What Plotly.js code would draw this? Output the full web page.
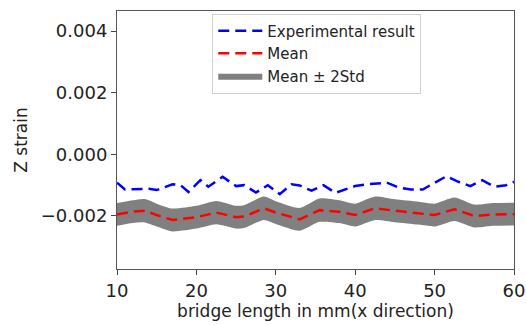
<!DOCTYPE html>
<html>
<head>
<meta charset="utf-8">
<script src="https://cdn.plot.ly/plotly-3.0.1.min.js"></script>
<style>html,body{margin:0;padding:0;background:#fff;}</style>
</head>
<body>
<div id="chart" style="width:526px;height:325px;"></div>
<script>
// Experimental result (blue dashed)
const expX = [10, 11, 14, 15, 17, 18, 19, 20.5, 21.5, 23.3, 25, 26, 27.5, 29, 30.5, 32, 33, 34.5, 36, 37.5, 40, 41.5, 44, 45.5, 47, 48.5, 51.5, 53, 54.5, 56, 57.5, 59, 60];
const expY = [-0.00092, -0.00114, -0.00112, -0.00116, -0.00097, -0.00100, -0.00122, -0.00084, -0.00105, -0.00073, -0.00103, -0.00100, -0.00124, -0.00100, -0.00129, -0.00097, -0.00101, -0.00118, -0.00100, -0.00125, -0.00103, -0.00097, -0.00092, -0.00108, -0.00114, -0.00114, -0.00071, -0.00089, -0.00103, -0.00084, -0.00105, -0.00100, -0.00089];

// Mean (red dashed) and 2*Std half-width of grey band
const meanX = [10, 12, 13.5, 15, 17, 20, 22.5, 25, 26, 28.5, 30, 33, 35.5, 38, 40, 42.5, 45, 48, 50, 52.5, 55, 57.5, 60];
const meanY = [-0.00195, -0.00186, -0.00183, -0.00197, -0.00213, -0.00204, -0.00189, -0.00204, -0.00202, -0.00175, -0.00189, -0.00211, -0.00181, -0.00186, -0.00197, -0.00175, -0.00183, -0.00191, -0.00197, -0.00178, -0.00200, -0.00195, -0.00194];
const twoStd = [0.00037, 0.00037, 0.00038, 0.00037, 0.00037, 0.00037, 0.00038, 0.00037, 0.00037, 0.00038, 0.00037, 0.00037, 0.00038, 0.00037, 0.00037, 0.00038, 0.00037, 0.00037, 0.00037, 0.00038, 0.00037, 0.00037, 0.00037];

const yTicks = [-0.002, 0.000, 0.002, 0.004];
const xTicks = [10, 20, 30, 40, 50, 60];

const upper = meanY.map((m, i) => m + twoStd[i]);
const lower = meanY.map((m, i) => m - twoStd[i]);

const font = "DejaVu Sans, sans-serif";
const traces = [
  {x: expX, y: expY, mode: 'lines', line: {color: '#0000ff', width: 2.5, dash: '11px,6px'}, name: 'Experimental result', legendrank: 1},
  {x: meanX, y: upper, mode: 'lines', line: {width: 0, color: '#808080', shape: 'spline', smoothing: 0.6}, showlegend: false, hoverinfo: 'skip'},
  {x: meanX, y: lower, mode: 'lines', fill: 'tonexty', fillcolor: '#808080', line: {width: 0, color: '#808080', shape: 'spline', smoothing: 0.6}, name: 'Mean ± 2Std', legendrank: 3},
  {x: meanX, y: meanY, mode: 'lines', line: {color: '#ff0000', width: 2.5, dash: '11px,6px'}, name: 'Mean', legendrank: 2}
];

const layout = {
  width: 526, height: 325,
  margin: {l: 117, r: 12, t: 11, b: 56},
  paper_bgcolor: '#fff', plot_bgcolor: '#fff',
  font: {family: font, size: 17, color: '#222'},
  xaxis: {
    range: [10, 60], tickvals: xTicks, ticks: 'outside', ticklen: 5, tickcolor: '#444',
    showline: true, linecolor: '#555', linewidth: 1, mirror: true, showgrid: false, zeroline: false,
    tickfont: {size: 18}, title: {text: 'bridge length in mm(x direction)', font: {size: 17}, standoff: 4}
  },
  yaxis: {
    range: [-0.00372, 0.00465], tickvals: yTicks, tickformat: '.3f', ticksuffix: ' ', ticks: 'outside', ticklen: 5, tickcolor: '#444',
    showline: true, linecolor: '#555', linewidth: 1, mirror: true, showgrid: false, zeroline: false,
    tickfont: {size: 18}, title: {text: 'Z strain', font: {size: 17}, standoff: 8}
  },
  legend: {
    x: 0.24, y: 0.99, xanchor: 'left', yanchor: 'top', traceorder: 'normal',
    bgcolor: 'rgba(255,255,255,0.8)', bordercolor: '#d0d0d0', borderwidth: 1,
    font: {size: 15, family: font}, tracegroupgap: 0, itemwidth: 44
  },
  showlegend: true
};

Plotly.newPlot('chart', traces, layout, {displayModeBar: false, staticPlot: true});
</script>
</body>
</html>
